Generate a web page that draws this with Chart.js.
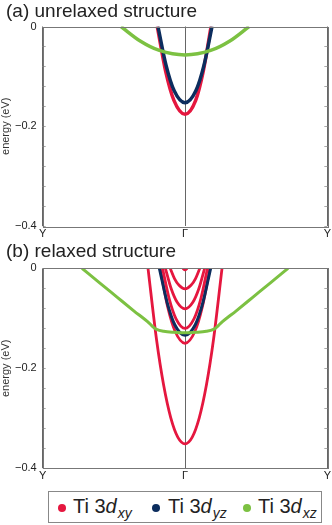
<!DOCTYPE html>
<html>
<head>
<meta charset="utf-8">
<script src="https://cdn.jsdelivr.net/npm/chart.js@4/dist/chart.umd.min.js"></script>
<style>
    html, body { margin: 0; padding: 0; background: #fff; }
    #page { position: relative; width: 332px; height: 525px; overflow: hidden; font-family: 'Liberation Sans', Arial, sans-serif; }
    #chart-a { position: absolute; left: 0; top: 0; }
    #chart-b { position: absolute; left: 0; top: 240px; }
    #legend { position: absolute; left: 48px; top: 491px; width: 274px; height: 32px; border: 1px solid #888; box-sizing: border-box; }
    .item { position: absolute; top: 3px; font-size: 20px; color: #222; white-space: nowrap; line-height: 22px; }
    .dot { position: absolute; top: 12px; width: 8px; height: 8px; border-radius: 50%; }
    .item i { font-style: italic; }
    .item sub { font-size: 14px; font-style: italic; vertical-align: -5px; line-height: 0; margin-left: 1px; }
</style>
</head>
<body>
<div id="page">
    <canvas id="chart-a" width="332" height="240"></canvas>
    <canvas id="chart-b" width="332" height="245"></canvas>
    <div id="legend">
        <span class="dot" style="left: 9px; background: #e5173f;"></span>
        <span class="item" style="left: 24px;">Ti 3<i>d</i><sub>xy</sub></span>
        <span class="dot" style="left: 103px; background: #0c2d5e;"></span>
        <span class="item" style="left: 119px;">Ti 3<i>d</i><sub>yz</sub></span>
        <span class="dot" style="left: 194px; background: #7cc142;"></span>
        <span class="item" style="left: 209px;">Ti 3<i>d</i><sub>xz</sub></span>
    </div>
</div>
<script>
// k runs from Y (-1) through Gamma (0) to Y (1); energies in eV
const xTickValues = [-1, 0, 1];
const xTickLabels = ['Y', 'Γ', 'Y'];
const yTickValues = [0, -0.2, -0.4];
const yTickLabels = ['0', '\u22120.2', '\u22120.4'];

// (a) unrelaxed structure
const aXzK = [-0.45, -0.315, -0.18, 0, 0.18, 0.315, 0.45];
const aXzE = [0, -0.029, -0.048, -0.057, -0.048, -0.029, 0];
const aYzK = [-0.19, -0.133, -0.076, 0, 0.076, 0.133, 0.19];
const aYzE = [0, -0.078, -0.129, -0.153, -0.129, -0.078, 0];
const aXyK = [-0.195, -0.136, -0.078, 0, 0.075, 0.128, 0.183];
const aXyE = [0, -0.090, -0.148, -0.176, -0.148, -0.090, 0];

// (b) relaxed structure
const bXzK = [-0.724, -0.6, -0.48, -0.36, -0.25, -0.225, -0.2, -0.15, -0.07, 0, 0.07, 0.15, 0.2, 0.225, 0.25, 0.36, 0.48, 0.6, 0.724];
const bXzE = [0, -0.029, -0.057, -0.085, -0.110, -0.117, -0.122, -0.126, -0.128, -0.129, -0.128, -0.126, -0.122, -0.117, -0.110, -0.085, -0.057, -0.029, 0];
const bYzK = [-0.18, -0.126, -0.072, 0, 0.072, 0.126, 0.18];
const bYzE = [0, -0.068, -0.113, -0.134, -0.113, -0.068, 0];
const bXy1K = [-0.26, -0.2, -0.15, -0.1, -0.05, 0, 0.05, 0.1, 0.15, 0.2, 0.26];
const bXy1E = [0, -0.143, -0.234, -0.299, -0.338, -0.351, -0.338, -0.299, -0.234, -0.143, 0];
const bXy2K = [-0.175, -0.1225, -0.07, 0, 0.07, 0.1225, 0.175];
const bXy2E = [0, -0.0765, -0.126, -0.150, -0.126, -0.0765, 0];
const bXy3K = [-0.158, -0.111, -0.063, 0, 0.063, 0.111, 0.158];
const bXy3E = [0, -0.061, -0.101, -0.120, -0.101, -0.061, 0];
const bXy4K = [-0.138, -0.097, -0.055, 0, 0.055, 0.097, 0.138];
const bXy4E = [0, -0.041, -0.068, -0.081, -0.068, -0.041, 0];
const bXy5K = [-0.104, -0.073, -0.042, 0, 0.042, 0.073, 0.104];
const bXy5E = [0, -0.021, -0.034, -0.041, -0.034, -0.021, 0];
const bXy6K = [-0.016, 0, 0.016];
const bXy6E = [0, -0.003, 0];

const colors = {xy: '#e5173f', yz: '#0c2d5e', xz: '#7cc142'};

Chart.defaults.font.family = "'Liberation Sans', Arial, sans-serif";

function band(ks, es, color, width) {
    return {
        data: ks.map((k, i) => ({x: k, y: es[i]})),
        borderColor: color,
        borderWidth: width,
        showLine: true,
        pointRadius: 0,
        cubicInterpolationMode: 'monotone',
    };
}

// frame round the plot and small inward ticks on both sides
const framePlugin = {
    id: 'frame',
    afterDatasetsDraw(chart) {
        const {ctx, chartArea: a, scales} = chart;
        ctx.save();
        ctx.strokeStyle = '#aaa';
        ctx.lineWidth = 1;
        scales.y.ticks.forEach((tick) => {
            const y = Math.round(scales.y.getPixelForValue(tick.value)) + 0.5;
            ctx.beginPath();
            ctx.moveTo(a.left, y);
            ctx.lineTo(a.left + 3, y);
            ctx.moveTo(a.right - 3, y);
            ctx.lineTo(a.right, y);
            ctx.stroke();
        });
        ctx.strokeStyle = '#777';
        ctx.strokeRect(Math.round(a.left) + 0.5, Math.round(a.top) + 0.5, Math.round(a.right - a.left), Math.round(a.bottom - a.top));
        ctx.restore();
    },
};

function makePanel(id, title, titlePadding, axisHeight, datasets) {
    return new Chart(document.getElementById(id), {
        type: 'scatter',
        data: {datasets},
        plugins: [framePlugin],
        options: {
            responsive: false,
            animation: false,
            events: [],
            layout: {padding: {left: 6, right: 4, top: 0, bottom: 0}},
            plugins: {
                legend: {display: false},
                tooltip: {enabled: false},
                title: {
                    display: true,
                    text: title,
                    align: 'start',
                    color: '#222',
                    font: {size: 19, weight: 'normal'},
                    padding: titlePadding,
                },
            },
            scales: {
                x: {
                    type: 'linear',
                    min: -1,
                    max: 1,
                    afterFit(scale) {
                        scale.height = axisHeight;
                    },
                    afterBuildTicks(scale) {
                        scale.ticks = xTickValues.map((value) => ({value}));
                    },
                    ticks: {
                        padding: 1,
                        color: '#222',
                        font: {size: 11},
                        maxRotation: 0,
                        autoSkip: false,
                        callback(value) {
                            const i = xTickValues.indexOf(value);
                            return i >= 0 ? xTickLabels[i] : '';
                        },
                    },
                    grid: {color: '#666', drawTicks: false},
                    border: {display: false},
                },
                y: {
                    min: -0.4,
                    max: 0,
                    afterFit(scale) {
                        scale.width = 36.7;
                    },
                    ticks: {
                        stepSize: 0.04,
                        autoSkip: false,
                        padding: 6,
                        color: '#222',
                        font: {size: 11},
                        callback(value) {
                            const i = yTickValues.findIndex((v) => Math.abs(v - value) < 1e-6);
                            return i >= 0 ? yTickLabels[i] : '';
                        },
                    },
                    title: {
                        display: true,
                        text: 'energy (eV)',
                        color: '#333',
                        font: {size: 11},
                        padding: {top: -7, bottom: 0},
                    },
                    grid: {display: false, drawTicks: false},
                    border: {display: false},
                },
            },
        },
    });
}

makePanel('chart-a', '(a) unrelaxed structure', {top: 0, bottom: 3.7}, 14, [
    band(aXzK, aXzE, colors.xz, 3.5),
    band(aYzK, aYzE, colors.yz, 3.5),
    band(aXyK, aXyE, colors.xy, 3.5),
]);

makePanel('chart-b', '(b) relaxed structure', {top: 0, bottom: 5.5}, 16.7, [
    band(bXzK, bXzE, colors.xz, 3),
    band(bYzK, bYzE, colors.yz, 3),
    band(bXy6K, bXy6E, colors.xy, 2.8),
    band(bXy5K, bXy5E, colors.xy, 2.8),
    band(bXy4K, bXy4E, colors.xy, 2.8),
    band(bXy3K, bXy3E, colors.xy, 2.8),
    band(bXy2K, bXy2E, colors.xy, 2.8),
    band(bXy1K, bXy1E, colors.xy, 2.8),
]);
</script>
</body>
</html>
